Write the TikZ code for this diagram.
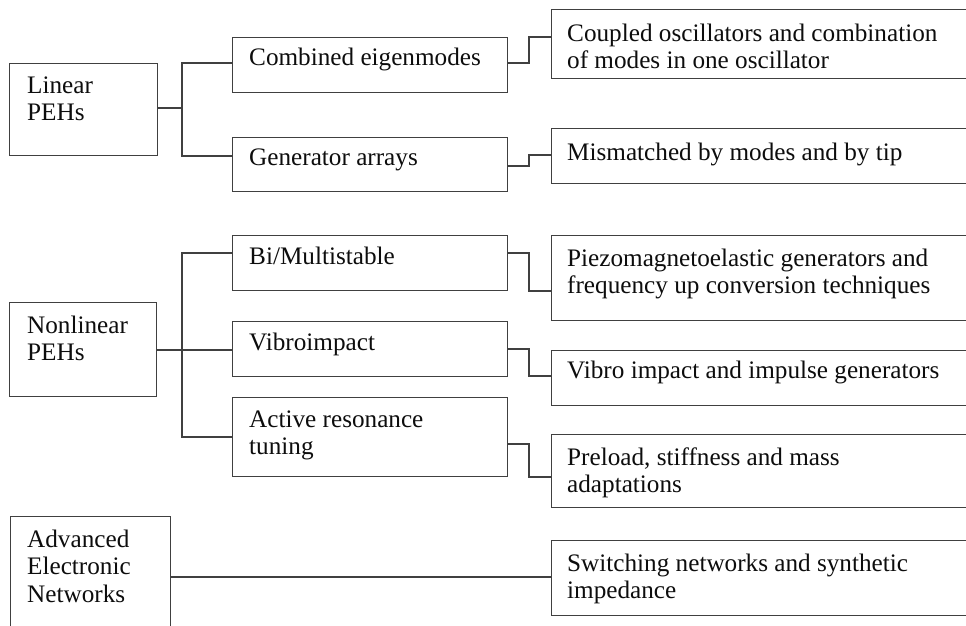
\documentclass[tikz,border=0pt]{standalone}
\usepackage{fontspec}
\setmainfont{Liberation Serif}
\definecolor{linegray}{HTML}{404040}
\definecolor{txt}{HTML}{0d0d0d}
\tikzset{
  box/.style={draw=linegray, line width=1.4pt, rectangle, inner sep=0pt, anchor=north west},
  lbl/.style={anchor=north west, inner sep=0pt, align=left, text=txt,
    font=\fontsize{25.2}{27.5}\selectfont},
  conn/.style={draw=linegray, line width=1.4pt}
}
\newcommand\ls{\strut}
\begin{document}
\begin{tikzpicture}[x=1pt,y=-1pt]
\useasboundingbox (0,0) rectangle (966,625);
\clip (0,0) rectangle (966,625);
\fill[white] (0,0) rectangle (966,625);
% left boxes
\node[box, minimum width=148pt, minimum height=92pt] (lin) at (9,63) {};
\node[box, minimum width=147pt, minimum height=94pt] (nonlin) at (9,302) {};
\node[box, minimum width=160pt, minimum height=130pt] (adv) at (10,516) {};
% middle boxes
\node[box, minimum width=275pt, minimum height=55pt] (comb) at (232,37) {};
\node[box, minimum width=275pt, minimum height=54pt] (gen) at (232,137) {};
\node[box, minimum width=275pt, minimum height=55pt] (bi) at (232,235) {};
\node[box, minimum width=275pt, minimum height=55pt] (vib) at (232,321) {};
\node[box, minimum width=275pt, minimum height=79pt] (act) at (232,397) {};
% right boxes
\node[box, minimum width=430pt, minimum height=69pt] (coup) at (551,9) {};
\node[box, minimum width=430pt, minimum height=55pt] (mism) at (551,128) {};
\node[box, minimum width=430pt, minimum height=85pt] (piezo) at (551,235) {};
\node[box, minimum width=430pt, minimum height=55pt] (vimp) at (551,350) {};
\node[box, minimum width=430pt, minimum height=73pt] (prel) at (551,434) {};
\node[box, minimum width=430pt, minimum height=75pt] (swit) at (551,540) {};
% labels
\node[lbl] (tlin) at (27,{93-19.25}) {\ls Linear\\\ls PEHs};
\node[lbl] (tnon) at (27,{333-19.25}) {\ls Nonlinear\\\ls PEHs};
\node[lbl] (tadv) at (27,{547-19.25}) {\ls Advanced\\\ls Electronic\\\ls Networks};
\node[lbl] (tcomb) at (249,{65-19.25}) {\ls Combined eigenmodes};
\node[lbl] (tgen) at (249,{165-19.25}) {\ls Generator arrays};
\node[lbl] (tbi) at (249,{264-19.25}) {\ls Bi/Multistable};
\node[lbl] (tvib) at (249,{350-19.25}) {\ls Vibroimpact};
\node[lbl] (tact) at (249,{427-19.25}) {\ls Active resonance\\\ls tuning};
\node[lbl] (tcoup) at (567,{41-19.25}) {\ls Coupled oscillators and combination\\\ls of modes in one oscillator};
\node[lbl] (tmism) at (567,{160-19.25}) {\ls Mismatched by modes and by tip};
\node[lbl] (tpiezo) at (567,{266-19.25}) {\ls Piezomagnetoelastic generators and\\\ls frequency up conversion techniques};
\node[lbl] (tvimp) at (567,{378-19.25}) {\ls Vibro impact and impulse generators};
\node[lbl] (tprel) at (567,{465-19.25}) {\ls Preload, stiffness and mass\\\ls adaptations};
\node[lbl] (tswit) at (567,{571-19.25}) {\ls Switching networks and synthetic\\\ls impedance};
% connectors: linear group
\coordinate (jl) at (182,108);
\draw[conn] (lin.east |- jl) -- (jl);
\draw[conn] (comb.west |- 0,63) -| (182,156) -- (gen.west |- 0,156);
\draw[conn] (comb.east |- 0,63) -- (529,63) |- (coup.west |- 0,37);
\draw[conn] (gen.east |- 0,166) -- (529,166) |- (mism.west |- 0,155);
% nonlinear group
\draw[conn] (nonlin.east |- 0,350) -- (vib.west |- 0,350);
\draw[conn] (bi.west |- 0,253) -| (182,437) -- (act.west |- 0,437);
\draw[conn] (bi.east |- 0,253) -- (529,253) |- (piezo.west |- 0,291);
\draw[conn] (vib.east |- 0,349) -- (529,349) |- (vimp.west |- 0,376);
\draw[conn] (act.east |- 0,444) -- (529,444) |- (prel.west |- 0,477);
% advanced
\draw[conn] (adv.east |- 0,577) -- (swit.west |- 0,577);
\end{tikzpicture}
\end{document}
